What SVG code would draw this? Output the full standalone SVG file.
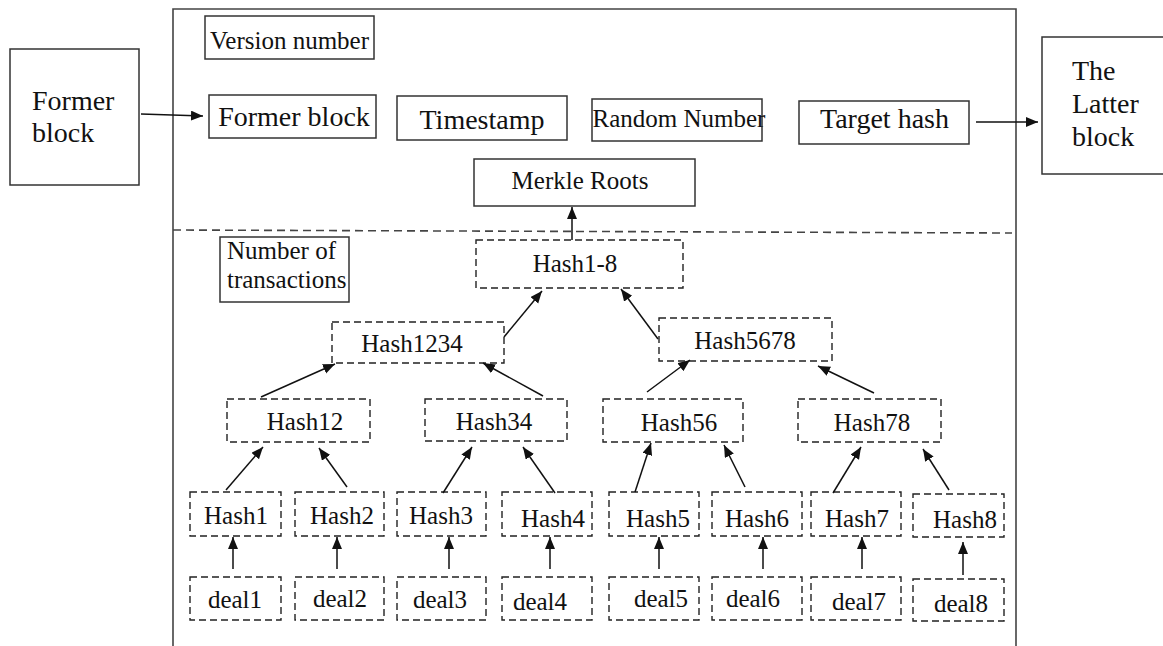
<svg xmlns="http://www.w3.org/2000/svg" width="1163" height="646" viewBox="0 0 1163 646">
<style>
text{font-family:"Liberation Serif","Times New Roman",serif;fill:#111}
.solid{fill:#fff;stroke:#333;stroke-width:1.5}
.dash{fill:#fff;stroke:#222;stroke-width:1.4;stroke-dasharray:7 4}
.l28{font-size:28px}
.l25{font-size:25px}
.c{text-anchor:middle}
.conn line{stroke:#111;stroke-width:1.5;marker-end:url(#ah)}
</style>
<defs>
<marker id="ah" markerUnits="userSpaceOnUse" markerWidth="13" markerHeight="11" refX="12" refY="5" orient="auto">
<path d="M0,0 L12,5 L0,10 z" fill="#111"/>
</marker>
</defs>
<rect width="1163" height="646" fill="#fff"/>
<g id="block-frame">
<polyline points="173,650 173,9 1016,9 1016,650" fill="none" stroke="#444" stroke-width="1.6"/>
<line x1="173" y1="230" x2="1012" y2="233" stroke="#444" stroke-width="1.6" stroke-dasharray="8 5"/>
</g>
<g id="former-block-ext">
<rect class="solid" x="10" y="49" width="129" height="136"/>
<text class="l28" x="32" y="110">Former</text>
<text class="l28" x="32" y="142">block</text>
</g>
<g id="latter-block">
<rect class="solid" x="1042" y="37" width="125" height="137"/>
<text class="l28" x="1072" y="80">The</text>
<text class="l28" x="1072" y="113">Latter</text>
<text class="l28" x="1072" y="146">block</text>
</g>
<g id="version-number">
<rect class="solid" x="205" y="16" width="169" height="43"/>
<text class="l25 c" x="289.5" y="49">Version number</text>
</g>
<g id="former-block">
<rect class="solid" x="209" y="95" width="167" height="43"/>
<text class="l28 c" x="294" y="126">Former block</text>
</g>
<g id="timestamp">
<rect class="solid" x="397" y="96" width="170" height="44"/>
<text class="l28 c" x="482" y="129">Timestamp</text>
</g>
<g id="random-number">
<rect class="solid" x="592" y="99" width="170" height="42"/>
<text class="l25 c" x="679" y="127">Random Number</text>
</g>
<g id="target-hash">
<rect class="solid" x="799" y="101" width="170" height="43"/>
<text class="l28 c" x="884.5" y="128">Target hash</text>
</g>
<g id="merkle-roots">
<rect class="solid" x="474" y="159" width="221" height="47"/>
<text class="l25 c" x="580" y="189">Merkle Roots</text>
</g>
<g id="number-of-transactions">
<rect class="solid" x="220" y="237" width="129" height="65"/>
<text class="l25" x="227" y="259">Number of</text>
<text class="l25" x="227" y="288">transactions</text>
</g>
<g id="hash1-8"><rect class="dash" x="476" y="240" width="207" height="48"/><text class="l25 c" x="575" y="272">Hash1-8</text></g>
<g id="hash1234"><rect class="dash" x="332" y="322" width="172" height="41"/><text class="l25 c" x="412" y="352">Hash1234</text></g>
<g id="hash5678"><rect class="dash" x="659" y="318" width="173" height="43"/><text class="l25 c" x="745" y="349">Hash5678</text></g>
<g id="hash12"><rect class="dash" x="227" y="399" width="143" height="43"/><text class="l25 c" x="305" y="430">Hash12</text></g>
<g id="hash34"><rect class="dash" x="425" y="399" width="142" height="42"/><text class="l25 c" x="494" y="430">Hash34</text></g>
<g id="hash56"><rect class="dash" x="603" y="399" width="140" height="43"/><text class="l25 c" x="679" y="431">Hash56</text></g>
<g id="hash78"><rect class="dash" x="798" y="399" width="143" height="43"/><text class="l25 c" x="872" y="431">Hash78</text></g>
<g id="hash1"><rect class="dash" x="190" y="492" width="91" height="44"/><text class="l25 c" x="236" y="524">Hash1</text></g>
<g id="hash2"><rect class="dash" x="295" y="492" width="89" height="44"/><text class="l25 c" x="342" y="524">Hash2</text></g>
<g id="hash3"><rect class="dash" x="397" y="492" width="89" height="44"/><text class="l25 c" x="441" y="524">Hash3</text></g>
<g id="hash4"><rect class="dash" x="502" y="492" width="90" height="44"/><text class="l25 c" x="553" y="527">Hash4</text></g>
<g id="hash5"><rect class="dash" x="609" y="492" width="90" height="44"/><text class="l25 c" x="658" y="527">Hash5</text></g>
<g id="hash6"><rect class="dash" x="712" y="492" width="90" height="44"/><text class="l25 c" x="757" y="527">Hash6</text></g>
<g id="hash7"><rect class="dash" x="811" y="492" width="90" height="44"/><text class="l25 c" x="857" y="527">Hash7</text></g>
<g id="hash8"><rect class="dash" x="913" y="494" width="91" height="43"/><text class="l25 c" x="965" y="528">Hash8</text></g>
<g id="deal1"><rect class="dash" x="190" y="577" width="91" height="43"/><text class="l25 c" x="235" y="608">deal1</text></g>
<g id="deal2"><rect class="dash" x="295" y="577" width="89" height="43"/><text class="l25 c" x="340" y="607">deal2</text></g>
<g id="deal3"><rect class="dash" x="397" y="577" width="89" height="43"/><text class="l25 c" x="440" y="608">deal3</text></g>
<g id="deal4"><rect class="dash" x="502" y="577" width="90" height="43"/><text class="l25 c" x="540" y="610">deal4</text></g>
<g id="deal5"><rect class="dash" x="609" y="577" width="90" height="43"/><text class="l25 c" x="661" y="607">deal5</text></g>
<g id="deal6"><rect class="dash" x="712" y="577" width="90" height="43"/><text class="l25 c" x="753" y="607">deal6</text></g>
<g id="deal7"><rect class="dash" x="811" y="577" width="90" height="43"/><text class="l25 c" x="859" y="610">deal7</text></g>
<g id="deal8"><rect class="dash" x="913" y="579" width="91" height="42"/><text class="l25 c" x="961" y="612">deal8</text></g>
<g id="connectors" class="conn">
<line x1="141" y1="114" x2="203" y2="116"/>
<line x1="976" y1="122" x2="1038" y2="122"/>
<line x1="572" y1="240" x2="572" y2="207"/>
<line x1="504" y1="337" x2="542" y2="291"/>
<line x1="658" y1="339" x2="621" y2="289"/>
<line x1="261" y1="397" x2="335" y2="364"/>
<line x1="543" y1="396" x2="483" y2="363"/>
<line x1="647" y1="392" x2="690" y2="360"/>
<line x1="874" y1="393" x2="818" y2="366"/>
<line x1="226" y1="490" x2="263" y2="447"/>
<line x1="347" y1="487" x2="319" y2="448"/>
<line x1="443" y1="493" x2="472" y2="447"/>
<line x1="555" y1="493" x2="523" y2="447"/>
<line x1="635" y1="492" x2="651" y2="443"/>
<line x1="745" y1="487" x2="724" y2="445"/>
<line x1="833" y1="493" x2="861" y2="447"/>
<line x1="949" y1="490" x2="923" y2="449"/>
<line x1="233" y1="569" x2="233" y2="537"/>
<line x1="337" y1="569" x2="337" y2="537"/>
<line x1="449" y1="569" x2="449" y2="537"/>
<line x1="550" y1="569" x2="550" y2="537"/>
<line x1="659" y1="569" x2="659" y2="537"/>
<line x1="763" y1="569" x2="763" y2="537"/>
<line x1="862" y1="569" x2="862" y2="537"/>
<line x1="963" y1="575" x2="963" y2="542"/>
</g>
</svg>
